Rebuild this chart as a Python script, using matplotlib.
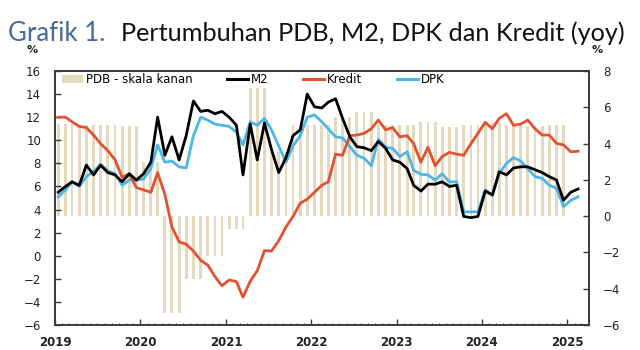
import numpy as np
import pandas as pd
import matplotlib
matplotlib.use("Agg")
import matplotlib.pyplot as plt
import matplotlib.dates as mdates
from matplotlib.patches import Patch
from matplotlib.lines import Line2D

# ---- data (monthly, Jan 2019 - Feb 2025) ----
m2 = [5.5, 6.0, 6.4, 6.1, 7.85, 7.0, 7.85, 7.2, 7.0, 6.4, 7.1, 6.55,
      7.1, 8.1, 12.0, 8.7, 10.3, 8.3, 10.4, 13.4, 12.5, 12.6, 12.3, 12.5,
      12.0, 11.3, 7.0, 11.4, 8.3, 11.5, 9.2, 7.2, 8.5, 10.4, 10.9, 14.0,
      12.9, 12.8, 13.3, 13.6, 11.9, 10.3, 9.45, 9.35, 9.1, 9.9, 9.3, 8.3,
      8.1, 7.55, 6.1, 5.6, 6.2, 6.2, 6.4, 6.0, 6.1, 3.4, 3.3, 3.4,
      5.6, 5.26, 7.28, 7.0, 7.6, 7.7, 7.7, 7.45, 7.2, 6.85, 6.55, 4.8,
      5.5, 5.78]
kredit = [12.0, 12.0, 11.6, 11.2, 11.1, 10.45, 9.7, 9.1, 8.3, 6.8, 7.1, 5.9,
          5.7, 5.5, 7.2, 5.3, 2.5, 1.2, 1.0, 0.4, -0.4, -0.8, -1.8, -2.6,
          -2.1, -2.25, -3.6, -2.2, -1.3, 0.45, 0.4, 1.3, 2.5, 3.4, 4.55, 4.9,
          5.5, 6.1, 6.4, 8.8, 8.7, 10.4, 10.45, 10.6, 11.0, 11.75, 10.9, 11.1,
          10.3, 10.4, 9.7, 8.1, 9.4, 7.8, 8.6, 8.95, 8.8, 8.7, 9.7, 10.6,
          11.55, 11.0, 11.9, 12.3, 11.3, 11.4, 11.75, 11.0, 10.45, 10.45, 9.73, 9.6,
          9.0, 9.05]
dpk = [5.1, 5.7, 6.4, 6.0, 6.85, 7.3, 7.9, 7.35, 7.1, 6.1, 6.55, 6.55,
       6.65, 7.55, 9.6, 8.1, 8.2, 7.7, 7.6, 10.4, 12.0, 11.75, 11.4, 11.3,
       11.2, 10.7, 9.6, 11.6, 11.3, 11.9, 10.9, 9.5, 8.1, 9.5, 10.4, 12.0,
       12.2, 11.6, 11.0, 10.3, 10.2, 9.45, 8.7, 8.45, 7.8, 10.1, 9.4, 9.3,
       8.6, 9.0, 7.4, 7.05, 7.0, 6.55, 7.1, 6.4, 6.4, 3.8, 3.8, 3.8,
       5.7, 5.26, 7.1, 8.0, 8.5, 8.2, 7.55, 6.85, 6.7, 6.1, 5.85, 4.25,
       4.8, 5.1]
# quarterly GDP growth (right axis), Q1 2019 - Q4 2024
pdb_q = [5.07, 5.05, 5.02, 4.97,
         2.97, -5.32, -3.49, -2.19,
         -0.71, 7.07, 3.51, 5.02,
         5.01, 5.44, 5.73, 5.01,
         5.04, 5.17, 4.94, 5.04,
         5.11, 5.05, 4.95, 5.02]

dates = pd.date_range("2019-01-01", periods=len(m2), freq="MS") + pd.Timedelta(days=14)
pdb_m = np.repeat(pdb_q, 3)
bar_dates = pd.date_range("2019-01-01", periods=len(pdb_m), freq="MS") + pd.Timedelta(days=14)

C_BAR = "#e4d9bc"
C_M2 = "#000000"
C_KR = "#e2522e"
C_DPK = "#4bb6e8"
C_AX = "#3a3a3a"

fig = plt.figure(figsize=(6.4, 3.5), dpi=100)
ax = fig.add_axes([55/640, 1-325/350, (589-55)/640, (325-71)/350])
ax2 = ax.twinx()

ax2.bar(bar_dates, pdb_m, width=12, color=C_BAR, linewidth=0, zorder=1)
ax2.set_ylim(-6, 8)
ax2.set_yticks(range(-6, 9, 2))

ax.set_zorder(ax2.get_zorder() + 1)
ax.patch.set_visible(False)

lw = 2.0
ax.plot(dates, dpk, color=C_DPK, lw=lw, solid_joinstyle="round")
ax.plot(dates, kredit, color=C_KR, lw=lw, solid_joinstyle="round")
ax.plot(dates, m2, color=C_M2, lw=lw, solid_joinstyle="round")

ax.set_ylim(-6, 16)
ax.set_yticks(range(-6, 17, 2))
ax.set_xlim(pd.Timestamp("2019-01-01"), pd.Timestamp("2025-04-03"))
ax.xaxis.set_major_locator(mdates.YearLocator())
ax.xaxis.set_major_formatter(mdates.DateFormatter("%Y"))
ax.xaxis.set_minor_locator(mdates.MonthLocator())

for a in (ax, ax2):
    for s in a.spines.values():
        s.set_color(C_AX)
        s.set_linewidth(1.2)

ax.tick_params(axis="y", direction="in", length=4, width=1, color=C_AX,
               labelsize=8.5, pad=10, labelcolor="#222222")
ax2.tick_params(axis="y", direction="in", length=4, width=1, color=C_AX,
                labelsize=8.5, pad=10, labelcolor="#222222")
ax.tick_params(axis="x", which="major", direction="in", length=4, width=1,
               color=C_AX, labelsize=8.5, pad=8, labelcolor="#222222")
ax.tick_params(axis="x", which="minor", direction="in", length=1.5, width=0.8,
               color=C_AX)
for lab in ax.get_xticklabels():
    lab.set_fontweight("bold")

handles = [Patch(facecolor=C_BAR, edgecolor="none"),
           Line2D([], [], color=C_M2, lw=2.2),
           Line2D([], [], color=C_KR, lw=2.2),
           Line2D([], [], color=C_DPK, lw=2.2)]
labels = ["PDB - skala kanan", "M2", "Kredit", "DPK"]
leg = ax.legend(handles, labels, loc="upper left", bbox_to_anchor=(0.0, 1.02),
                ncol=4, frameon=False, fontsize=8.5, handlelength=1.8,
                handletextpad=0.2, columnspacing=2.95, borderaxespad=0.2)

fig.text(32/640, 1-50/350, "%", fontsize=8, fontweight="bold", ha="center",
         va="center", color="#222222")
fig.text(597/640, 1-50/350, "%", fontsize=8, fontweight="bold", ha="center",
         va="center", color="#222222")

fig.text(8/640, 1-41/350, "Grafik 1.", fontsize=18.5, color="#466a94",
         family="Lato", va="baseline")
fig.text(121/640, 1-41/350, "Pertumbuhan PDB, M2, DPK dan Kredit (yoy)",
         fontsize=18.2, color="#111111", family="Lato", va="baseline")

fig.savefig("out.png", dpi=100)
